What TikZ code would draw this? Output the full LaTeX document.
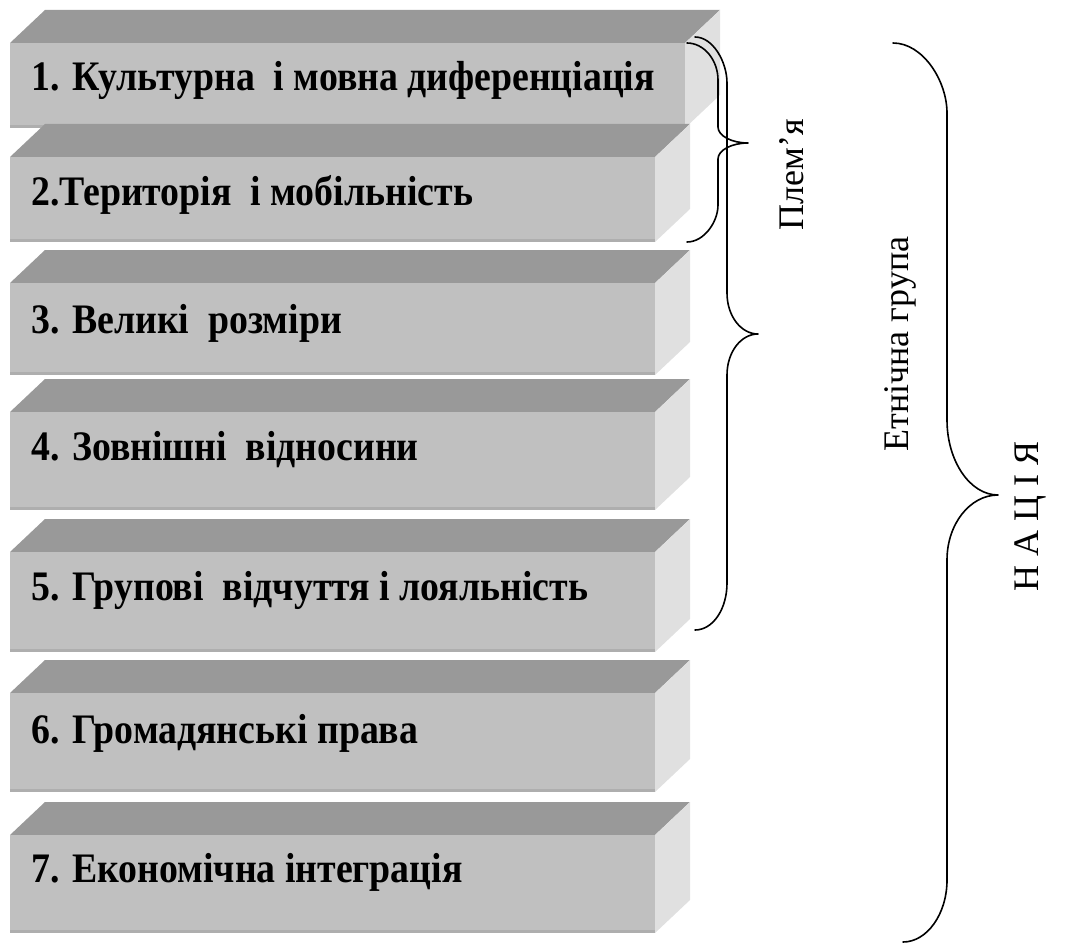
\documentclass[tikz,border=0pt]{standalone}
\usepackage{fontspec}
\usepackage{graphicx}
\setmainfont{Liberation Serif}
\definecolor{topc}{HTML}{999999}
\definecolor{frontc}{HTML}{C0C0C0}
\definecolor{sidec}{HTML}{E0E0E0}
\definecolor{edgec}{HTML}{AEAEAE}
\tikzset{
  boxtext/.style={anchor=base west,inner sep=0pt,font=\bfseries\fontsize{42}{46}\selectfont},
  sidelabel/.style={rotate=90,inner sep=0pt,font=\fontsize{36}{40}\selectfont},
  bracepath/.style={line width=1.6pt,line cap=round,line join=round}
}
% #1 name, #2 front top, #3 front bottom, #4 front right, #5 baseline y, #6 text
\newcommand\slab[6]{%
  \fill[topc] (10,#2) -- (45,{#2-33}) -- ({#4+35},{#2-33}) -- (#4,#2) -- cycle;
  \fill[sidec] (#4,#2) -- ({#4+35},{#2-33}) -- ({#4+35},{#3-33}) -- (#4,#3) -- cycle;
  \fill[frontc] (10,#2) rectangle (#4,#3);
  \fill[edgec] (10,{#3-3}) rectangle (#4,#3);
  \node[boxtext] (#1) at (31,#5) {\scalebox{0.9}[1]{#6}};
}
\begin{document}
\begin{tikzpicture}[x=1pt,y=-1pt]
\useasboundingbox (0,0) rectangle (1084,947);
\slab{b1}{43}{128}{685}{91}{1. Культурна\ \ і мовна диференціація}
\slab{b2}{157}{242}{655}{205}{2.Територія\ \ і мобільність}
\slab{b3}{283}{375}{655}{333}{3. Великі\ \ розміри}
\slab{b4}{412}{510}{655}{460}{4. Зовнішні\ \ відносини}
\slab{b5}{552}{652}{655}{600}{5. Групові\ \ відчуття і лояльність}
\slab{b6}{693}{792}{655}{743}{6. Громадянські права}
\slab{b7}{835}{933}{655}{882}{7. Економічна інтеграція}
% braces
\draw[bracepath] (687,43) .. controls (704,43) and (718,60) .. (718,80) -- (718,127)
  .. controls (718,136) and (732,143) .. (748,143)
  .. controls (732,143) and (718,150) .. (718,159) -- (718,205)
  .. controls (718,222) and (704,242) .. (687,242);
\draw[bracepath] (695,37) .. controls (713,37) and (727,62) .. (727,83) -- (727,293)
  .. controls (727,316) and (741,334) .. (758,334)
  .. controls (741,334) and (727,352) .. (727,375) -- (727,583)
  .. controls (727,609) and (713,630) .. (695,630);
\draw[bracepath] (893,43) .. controls (923,43) and (947,81) .. (947,113) -- (947,420)
  .. controls (947,461) and (970,495) .. (998,495)
  .. controls (970,495) and (947,524) .. (947,560) -- (947,880)
  .. controls (947,914) and (927,942) .. (903,942);
\node[sidelabel] (plem) at (792,175) {Плем’я};
\node[sidelabel] (etn) at (900,344) {Етнічна група};
\node[sidelabel] (nac) at (1030,516) {Н А Ц І Я};
\end{tikzpicture}
\end{document}
